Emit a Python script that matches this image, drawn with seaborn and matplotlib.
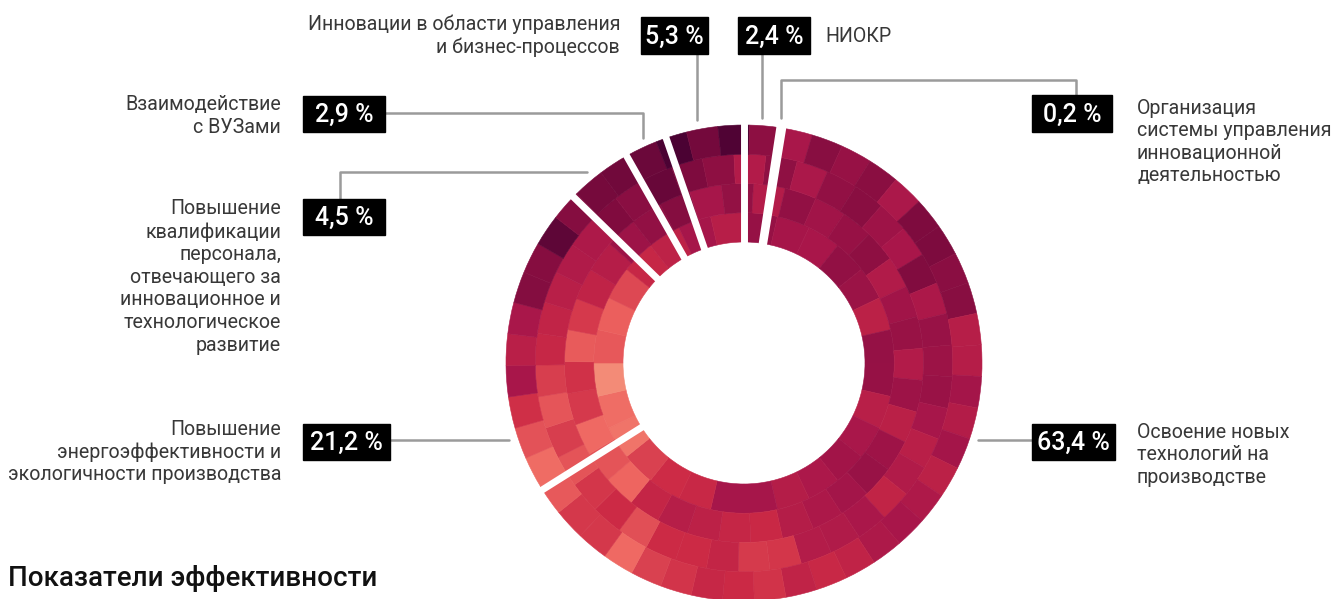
import numpy as np
import matplotlib
matplotlib.use("Agg")
import matplotlib.pyplot as plt
from matplotlib.patches import Wedge, Rectangle
import seaborn as sns

sns.set_theme(style="white")
plt.rcParams['font.family'] = ['Roboto', 'DejaVu Sans']

# shares of the innovation budget, clockwise from 12 o'clock
categories = ["НИОКР",
              "Организация\nсистемы управления\nинновационной\nдеятельностью",
              "Освоение новых\nтехнологий на\nпроизводстве",
              "Повышение\nэнергоэффективности и\nэкологичности производства",
              "Повышение\nквалификации\nперсонала,\nотвечающего за\nинновационное и\nтехнологическое\nразвитие",
              "Взаимодействие\nс ВУЗами",
              "Инновации в области управления\nи бизнес-процессов"]
shares = [2.4, 0.2, 63.4, 21.2, 4.5, 2.9, 5.3]
title = "Показатели эффективности"

# layout (pixels, y down)
CX, CY = 744, 363
R_OUT, R_IN = 238, 121
N_RING = 4

# mosaic texture: shade anchors every 30 deg for outer and inner ring
anchor_deg = np.arange(0, 361, 30)
outer_shade = [0.35, 0.35, 0.25, 0.45, 0.48, 0.52, 0.62, 0.72, 0.75, 0.45, 0.22, 0.08, 0.12]
inner_shade = [0.40, 0.38, 0.42, 0.40, 0.38, 0.42, 0.45, 0.55, 0.80, 0.85, 0.72, 0.48, 0.40]
cmap = sns.blend_palette(["#3d0030", "#7e0b3e", "#a8164a", "#cc2a45", "#ee6560", "#f59a80"],
                         as_cmap=True)
rng = np.random.default_rng(11)

# label placement: (box centre, box w, box h, text anchor, ha, leader polyline)
boxes = [
    ((774, 35.5), 72, 37, (825, 36), "left", [(762, 54), (762, 118)]),
    ((1072, 113.5), 80, 37, (1137, 142), "left", [(781, 118), (781, 80), (1076, 80), (1076, 95)]),
    ((1073.5, 442), 83, 36, (1137, 455), "left", [(978, 440), (1032, 440)]),
    ((346.5, 442), 87, 36, (281, 452), "right", [(390, 440), (509, 440)]),
    ((344, 217), 82, 36, (281, 277), "right", [(340, 199), (340, 172), (587, 172)]),
    ((344, 114), 82, 36, (281, 116), "right", [(385, 113), (643, 113), (643, 138)]),
    ((674.5, 35.5), 67, 37, (620, 36), "right", [(697, 54), (697, 120)]),
]


def main():
    fig = plt.figure(figsize=(13.37, 5.99), dpi=100)
    ax = fig.add_axes([0, 0, 1, 1])
    ax.set_xlim(0, 1337)
    ax.set_ylim(599, 0)
    ax.axis('off')

    total = sum(shares)
    edges = np.concatenate([[0], np.cumsum(shares)]) / total * 360
    dr = (R_OUT - R_IN) / N_RING

    for j in range(N_RING):
        r1 = R_IN + j * dr
        rmid = r1 + dr / 2
        n = int(round(2 * np.pi * rmid / 30))
        t_edges = np.linspace(0, 360, n + 1) + j * 3
        frac = j / (N_RING - 1)
        for i in range(n):
            a, b = t_edges[i], t_edges[i + 1]
            tm = ((a + b) / 2) % 360
            s = (1 - frac) * np.interp(tm, anchor_deg, inner_shade) + frac * np.interp(tm, anchor_deg, outer_shade)
            s = np.clip(s + rng.uniform(-0.11, 0.11), 0, 1)
            col = cmap(s)
            for k in range(len(shares)):
                if shares[k] < 1:
                    continue
                for off in (0, 360):
                    lo, hi = max(a - off, edges[k]), min(b - off, edges[k + 1])
                    if hi <= lo:
                        continue
                    ax.add_patch(Wedge((CX, CY), r1 + dr, lo - 90, hi - 90, width=dr,
                                       facecolor=col, edgecolor=col, lw=0.4))

    # white gaps between slices
    for e in edges[:-1]:
        t = np.deg2rad(e - 90)
        ax.plot([CX + (R_IN - 3) * np.cos(t), CX + (R_OUT + 3) * np.cos(t)],
                [CY + (R_IN - 3) * np.sin(t), CY + (R_OUT + 3) * np.sin(t)],
                color="white", lw=5, solid_capstyle="butt", zorder=3)

    for k, (c, w, h, tpos, ha, leader) in enumerate(boxes):
        xs, ys = zip(*leader)
        ax.plot(xs, ys, color="#9b9b9b", lw=1.8, zorder=2)
        ax.add_patch(Rectangle((c[0] - w / 2, c[1] - h / 2), w, h, color="black", zorder=4))
        lbl = f"{shares[k]:.1f} %".replace(".", ",")
        ax.text(c[0], c[1] + 1, lbl, color="white", fontsize=18, ha="center", va="center",
                fontweight="medium", zorder=5)
        ax.text(tpos[0], tpos[1], categories[k], color="#383838", fontsize=14.1,
                ha=ha, va="center", linespacing=1.24, multialignment=ha)

    ax.text(8, 579, title, color="#111111", fontsize=20, ha="left", va="center",
            fontweight="medium")

    fig.savefig("out.png", dpi=100, facecolor="white")


if __name__ == '__main__':
    main()
